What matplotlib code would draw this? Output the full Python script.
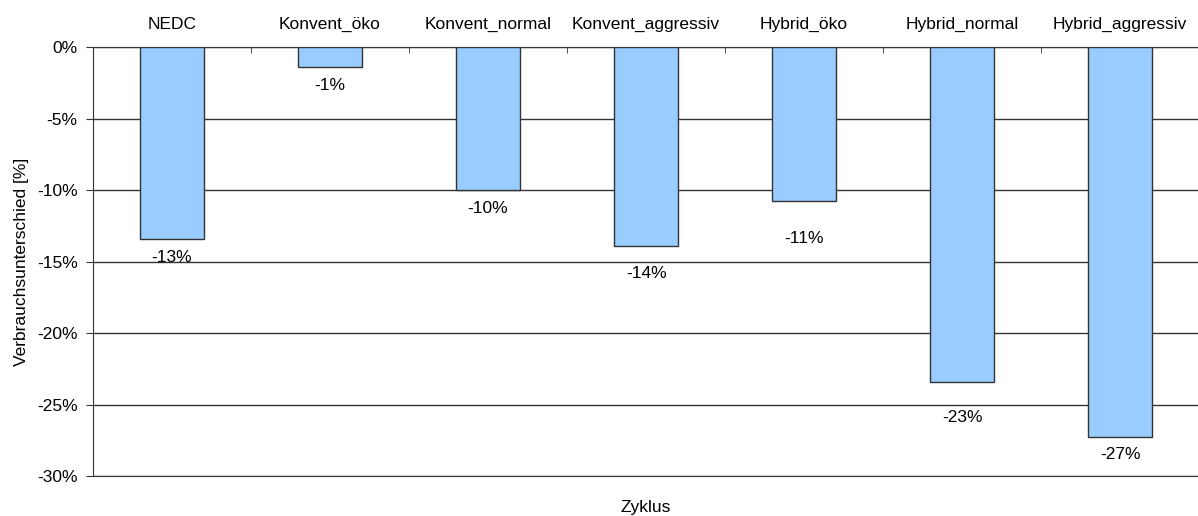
import matplotlib.pyplot as plt
import numpy as np

plt.rcParams['font.family'] = ['Liberation Sans', 'DejaVu Sans']

zyklen = ['NEDC', 'Konvent_öko', 'Konvent_normal', 'Konvent_aggressiv',
          'Hybrid_öko', 'Hybrid_normal', 'Hybrid_aggressiv']
diff = [-13.4, -1.4, -10.0, -13.9, -10.8, -23.4, -27.3]
# distance of each value label below its bar end, in % units
label_gap = [1.33, 1.26, 1.26, 1.96, 2.59, 2.52, 1.19]

fs = 12.5

fig = plt.figure(figsize=(11.98, 5.16), dpi=100)
ax = fig.add_axes([0.0776, 0.0775, 0.9234, 0.8314])

x = np.arange(len(zyklen))
ax.bar(x, diff, width=0.405, color='#99ccff', edgecolor='#333333', linewidth=1, zorder=3)

for xi, v, g in zip(x, diff, label_gap):
    ax.text(xi, v - g, '%d%%' % round(v), ha='center', va='center', fontsize=fs)

ax.set_xlim(-0.5, len(zyklen) - 0.5)
ax.set_ylim(-30, 0)
ax.set_yticks(np.arange(-30, 1, 5))
ax.set_yticklabels(['%d%%' % t for t in np.arange(-30, 1, 5)], fontsize=fs)
ax.yaxis.grid(True, color='#333333', linewidth=1, zorder=0)

# category axis sits on the 0% line, labels above
ax.xaxis.tick_top()
ax.set_xticks(x)
ax.set_xticklabels(zyklen, fontsize=fs)
ax.tick_params(axis='x', which='major', length=0, pad=11)
ax.set_xticks(np.arange(0.5, len(zyklen) - 0.5), minor=True)
ax.tick_params(axis='x', which='minor', length=4, direction='in', color='#333333')
ax.tick_params(axis='y', length=5, color='#333333', pad=6)

ax.spines['right'].set_visible(False)
ax.spines['top'].set_color('#333333')
ax.spines['left'].set_color('#333333')
ax.spines['bottom'].set_color('#333333')

ax.set_ylabel('Verbrauchsunterschied [%]', fontsize=fs, labelpad=6)
ax.text(0.5, -0.055, 'Zyklus', transform=ax.transAxes, ha='center', va='top', fontsize=fs)

fig.savefig('out.png', dpi=100)
